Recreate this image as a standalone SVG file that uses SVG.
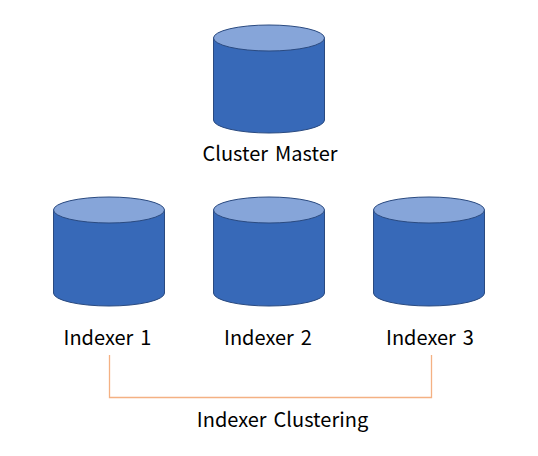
<svg xmlns="http://www.w3.org/2000/svg" width="538" height="456" viewBox="0 0 538 456">
<style>
.body{fill:#3769b8;stroke:#2a4a80;stroke-width:1}
.top{fill:#86a5d9;stroke:#2a4a80;stroke-width:1}
text{font-family:"Noto Sans CJK KR","Noto Sans",sans-serif;font-size:20px;fill:#000;text-anchor:middle;word-spacing:2.500px}
</style>
<rect width="538" height="456" fill="#fff"/>
<g id="connectors"><path d="M109.500 355V397.500H431.500V355" fill="none" stroke="#f4b183" stroke-width="1.300"/></g>
<g id="cluster-master"><path class="body" d="M213.500 38V120A55.500 13 0 0 0 324.500 120V38Z"/><ellipse class="top" cx="269" cy="38" rx="55.500" ry="13"/><text x="270" y="161">Cluster Master</text></g>
<g id="indexer-1"><path class="body" d="M53.500 210V293A55.500 13 0 0 0 164.500 293V210Z"/><ellipse class="top" cx="109" cy="210" rx="55.500" ry="13"/><text x="107.500" y="345">Indexer 1</text></g>
<g id="indexer-2"><path class="body" d="M213.500 210V293A55.500 13 0 0 0 324.500 293V210Z"/><ellipse class="top" cx="269" cy="210" rx="55.500" ry="13"/><text x="268" y="345">Indexer 2</text></g>
<g id="indexer-3"><path class="body" d="M373.500 210V293A55.500 13 0 0 0 484.500 293V210Z"/><ellipse class="top" cx="429" cy="210" rx="55.500" ry="13"/><text x="430" y="345">Indexer 3</text></g>
<g id="clustering-label"><text x="282.500" y="427">Indexer Clustering</text></g>
</svg>
